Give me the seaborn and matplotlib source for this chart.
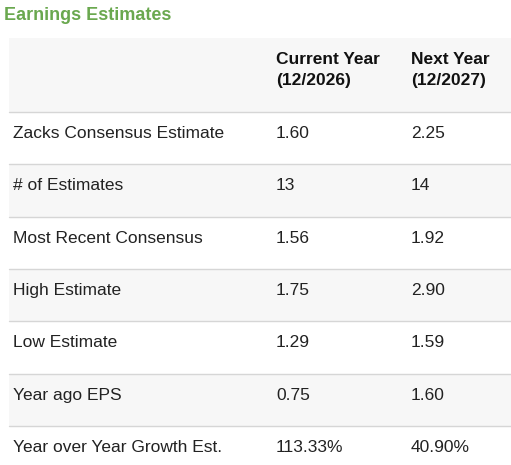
import matplotlib
matplotlib.use("Agg")
import matplotlib.pyplot as plt
import seaborn as sns
from matplotlib.patches import Rectangle

sns.set_theme(style="white")
plt.rcParams["font.family"] = ["Liberation Sans", "DejaVu Sans"]

title = "Earnings Estimates"
headers = ["", "Current Year\n(12/2026)", "Next Year\n(12/2027)"]
row_labels = ["Zacks Consensus Estimate", "# of Estimates", "Most Recent Consensus",
              "High Estimate", "Low Estimate", "Year ago EPS", "Year over Year Growth Est."]
current_year = ["1.60", "13", "1.56", "1.75", "1.29", "0.75", "113.33%"]
next_year = ["2.25", "14", "1.92", "2.90", "1.59", "1.60", "40.90%"]

fig = plt.figure(figsize=(5.11, 4.65), dpi=100)
ax = fig.add_axes([0, 0, 1, 1])
ax.set_xlim(0, 511)
ax.set_ylim(465, 0)
ax.axis("off")

left, right = 9, 511
col_x = [13, 276, 411]
head_top, head_bot = 38, 112
row_h = 52.3
fs = 12.5

ax.text(4, 15, title, color="#6aa84f", fontsize=13, fontweight="bold", va="center")
ax.add_patch(Rectangle((left, head_top), right - left, head_bot - head_top,
                       facecolor="#f7f7f7", edgecolor="none"))
for x, h in zip(col_x, headers):
    ax.text(x, 70, h, fontsize=fs, fontweight="bold",
            va="center", linespacing=1.55, color="#111111")

for i, (lab, c, n) in enumerate(zip(row_labels, current_year, next_year)):
    top = head_bot + i * row_h
    bg = "#f7f7f7" if i % 2 else "white"
    ax.add_patch(Rectangle((left, top), right - left, row_h, facecolor=bg, edgecolor="none"))
    ax.plot([left, right], [top, top], color="#d6d6d6", lw=1)
    yc = top + 21.5
    for x, s in zip(col_x, [lab, c, n]):
        ax.text(x, yc, s, fontsize=fs, va="center", color="#222222")

fig.savefig("out.png", dpi=100)
